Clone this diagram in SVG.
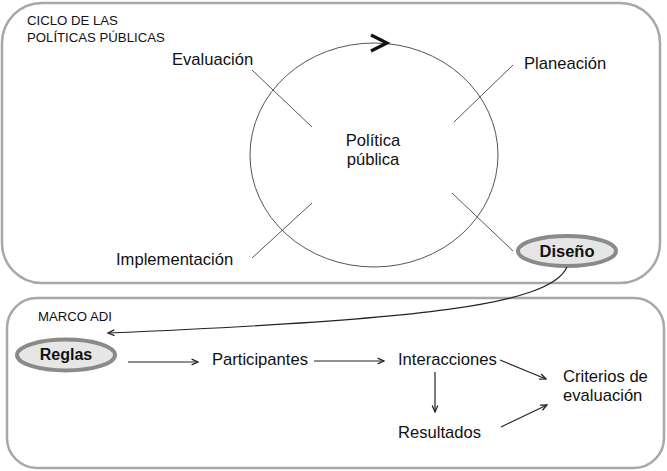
<svg xmlns="http://www.w3.org/2000/svg" width="667" height="471" viewBox="0 0 667 471">
<style>
text{font-family:"Liberation Sans",Arial,sans-serif;fill:#111}
.lbl{font-size:16.6px}
.cap{font-size:13.2px}
.b{font-weight:bold;font-size:16.5px}
.frame{fill:#fff;stroke:#a8a8a8;stroke-width:2.5}
.thin{fill:none;stroke:#555;stroke-width:1}
.arr{fill:none;stroke:#222;stroke-width:1.2;marker-end:url(#ah)}
.ov{fill:#e6e6e6;stroke:#8a8a8a;stroke-width:4}
</style>
<defs>
<marker id="ah" viewBox="0 0 10 10" refX="9" refY="5" markerWidth="8" markerHeight="8" markerUnits="userSpaceOnUse" orient="auto">
<path d="M1,1.5 L9,5 L1,8.5" fill="none" stroke="#222" stroke-width="1.6"/>
</marker>
</defs>
<rect id="ciclo-frame" class="frame" x="2" y="3" width="658" height="280" rx="40" ry="40"/>
<rect id="marco-frame" class="frame" x="7" y="298" width="657" height="170" rx="30" ry="30"/>
<g id="ciclo-title"><text class="cap" x="27" y="25">CICLO DE LAS</text><text class="cap" x="27" y="42">POLÍTICAS PÚBLICAS</text></g>
<g id="politica">
<ellipse class="thin" cx="374" cy="155" rx="124" ry="112"/>
<path d="M371,35 L387,43 L371,51" fill="none" stroke="#111" stroke-width="3.2" stroke-linejoin="miter"/>
<text class="lbl" x="373" y="146" text-anchor="middle">Política</text>
<text class="lbl" x="373" y="165" text-anchor="middle">pública</text>
</g>
<g id="evaluacion"><text class="lbl" x="172" y="65">Evaluación</text></g>
<g id="planeacion"><text class="lbl" x="524" y="69">Planeación</text></g>
<g id="implementacion"><text class="lbl" x="116" y="265">Implementación</text></g>
<g id="diseno"><ellipse class="ov" cx="567" cy="251" rx="49" ry="15"/><text class="b" x="567" y="257" text-anchor="middle">Diseño</text></g>
<g id="marco-title"><text class="cap" x="38" y="321">MARCO ADI</text></g>
<g id="reglas"><ellipse class="ov" cx="66" cy="355" rx="49" ry="15.5"/><text class="b" x="66" y="360" text-anchor="middle" style="font-size:16px">Reglas</text></g>
<g id="participantes"><text class="lbl" x="212" y="365">Participantes</text></g>
<g id="interacciones"><text class="lbl" x="398" y="365">Interacciones</text></g>
<g id="resultados"><text class="lbl" x="398" y="438">Resultados</text></g>
<g id="criterios"><text class="lbl" x="563" y="382">Criterios de</text><text class="lbl" x="563" y="401">evaluación</text></g>
<g id="connectors">
<line class="thin" x1="252" y1="70" x2="312" y2="127"/>
<line class="thin" x1="513" y1="65" x2="454" y2="122"/>
<line class="thin" x1="252" y1="258" x2="312" y2="203"/>
<line class="thin" x1="452" y1="193" x2="513" y2="251"/>
<path class="arr" d="M567,267 C550,305 420,320 108,333"/>
<line class="arr" x1="128" y1="362" x2="198" y2="362"/>
<line class="arr" x1="314" y1="361" x2="384" y2="361"/>
<line class="arr" x1="500" y1="360" x2="546" y2="379"/>
<line class="arr" x1="435" y1="372" x2="435" y2="412"/>
<line class="arr" x1="501" y1="427" x2="547" y2="405"/>
</g>
</svg>
